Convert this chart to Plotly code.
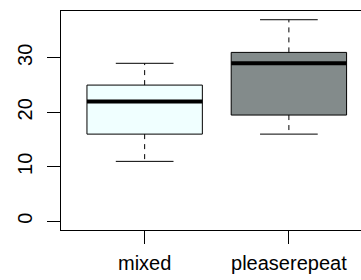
import plotly.graph_objects as go

categories = ["mixed", "pleaserepeat"]
lower = [11, 16]
q1 = [16, 19.5]
median = [22, 29]
q3 = [25, 31]
upper = [29, 37]
fills = ["#F0FFFF", "#838B8B"]
y_ticks = [0, 10, 20, 30]

xpos = [i + 1 for i in range(len(categories))]
boxw = 0.8
capw = 0.4

fig = go.Figure()
fig.add_trace(go.Bar(
    x=xpos, base=q1, y=[b - a for a, b in zip(q1, q3)], width=boxw,
    marker=dict(color=fills, line=dict(color="black", width=1)),
    showlegend=False, hoverinfo="skip"))

wx, wy, cx, cy, mx, my = [], [], [], [], [], []
for i, x in enumerate(xpos):
    wx += [x, x, None, x, x, None]
    wy += [q3[i], upper[i], None, q1[i], lower[i], None]
    cx += [x - capw / 2, x + capw / 2, None, x - capw / 2, x + capw / 2, None]
    cy += [upper[i], upper[i], None, lower[i], lower[i], None]
    mx += [x - boxw / 2, x + boxw / 2, None]
    my += [median[i], median[i], None]

fig.add_trace(go.Scatter(x=wx, y=wy, mode="lines",
                         line=dict(color="black", width=1, dash="5px,5px"),
                         showlegend=False, hoverinfo="skip"))
fig.add_trace(go.Scatter(x=cx, y=cy, mode="lines",
                         line=dict(color="black", width=1),
                         showlegend=False, hoverinfo="skip"))
fig.add_trace(go.Scatter(x=mx, y=my, mode="lines",
                         line=dict(color="black", width=4),
                         showlegend=False, hoverinfo="skip"))

fig.update_layout(
    width=361, height=280,
    margin=dict(l=61, r=0, t=11, b=50, autoexpand=False),
    plot_bgcolor="white", paper_bgcolor="white",
    font=dict(family="Liberation Sans, Arial, sans-serif", size=20, color="black"),
    xaxis=dict(range=[0.42, 2.5], tickvals=xpos, ticktext=categories,
               showgrid=False, zeroline=False, showline=True, mirror=True,
               linecolor="black", linewidth=1, ticks="outside", ticklen=13,
               tickcolor="black", tickwidth=1, fixedrange=True, automargin=False,
               ticklabelstandoff=2),
    yaxis=dict(range=[-1.6, 38.6], tickvals=y_ticks, tickangle=-90,
               showgrid=False, zeroline=False, showline=True, mirror=False,
               linecolor="black", linewidth=1, ticks="outside", ticklen=13,
               tickcolor="black", tickwidth=1, fixedrange=True, automargin=False,
               ticklabelstandoff=7),
)

fig.write_html("out.html", config={"displayModeBar": False},
               post_script="document.body.style.margin='0';document.body.style.padding='0';")
